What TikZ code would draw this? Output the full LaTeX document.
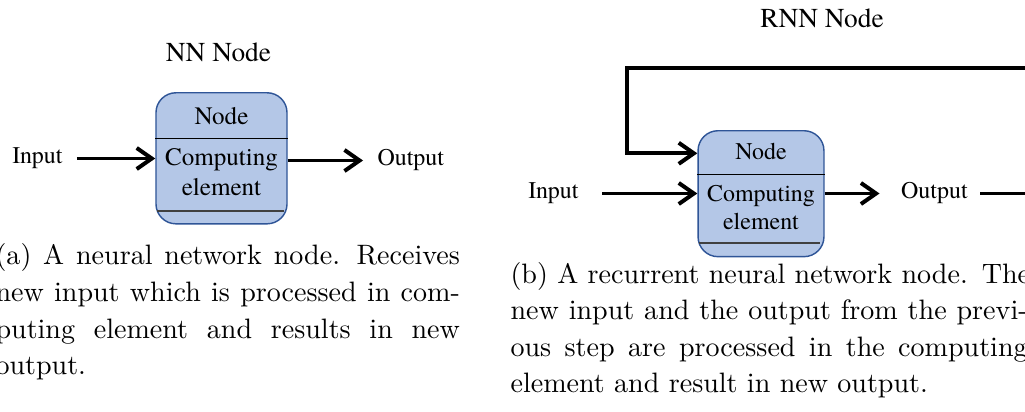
\documentclass[tikz,border=0pt]{standalone}
\usepackage{fontspec}
\newfontfamily\tnr{texgyretermes}[Extension=.otf, UprightFont=*-regular]
\usetikzlibrary{arrows.meta,positioning,calc}
\definecolor{boxfill}{HTML}{B4C7E7}
\definecolor{boxline}{HTML}{2F5597}
\tikzset{
  cell/.style={draw=boxline, fill=boxfill, rounded corners=7pt, line width=0.5pt, inner sep=0pt},
  celltxt/.style 2 args={font=\tnr\fontsize{#1}{#2}\selectfont, text width=44pt, align=center, inner sep=0pt},
  lbl/.style={font=\tnr\fontsize{8.4}{10}\selectfont, inner sep=0pt},
  ttl/.style={font=\tnr\fontsize{9.6}{11}\selectfont, inner sep=0pt},
  divtop/.style={line width=0.45pt, black},
  divbot/.style={line width=0.7pt, black!75},
  arr/.style={-{Straight Barb[length=5.3pt,width=7.4pt]}, line width=1.4pt},
  capn/.style={font=\fontsize{9.85}{12.85}\selectfont, inner sep=0pt, anchor=base west},
}
\begin{document}
\begin{tikzpicture}[x=0.351pt, y=-0.351pt]
\useasboundingbox (0,0) rectangle (1025,412);
\clip (0,0) rectangle (1025,412);
% (a) NN node
\node[ttl, anchor=base] (ttla) at (218.5,62) {NN Node};
\node[cell, minimum width=46pt, minimum height=46pt] (nn) at (221.5,158.3) {};
\node[celltxt={8.8}{10.2}, anchor=base] (nnhead) at (221.5,125) {Node};
\node[celltxt={8.8}{10.2}, anchor=base] (nnbody) at (221.5,166) {Computing\\element};
\draw[divtop] ($(nn.north west)+(0,46.6)$) -- ($(nn.north east)+(0,46.6)$);
\draw[divbot] ($(nn.south west)+(1.5,-14)$) -- ($(nn.south east)+(-4,-14)$);
\node[lbl, anchor=east] (in1) at (63,158.5) {Input};
\node[lbl, anchor=west] (out1) at (377,160.5) {Output};
\draw[arr, shorten <=4.9pt] (in1) -- (in1 -| nn.west);
\draw[arr, shorten >=4.9pt] (nn.east |- out1) -- (out1);
\node[capn, text width=163pt] (capa) at (-5,265) {%
  \makebox[163pt][s]{(a) \hfill A \hfill neural \hfill network \hfill node. \hfill Receives}\\
  \makebox[163pt][s]{new \hfill input \hfill which \hfill is \hfill processed \hfill in \hfill com-}\\
  \makebox[163pt][s]{puting \hfill element \hfill and \hfill results \hfill in \hfill new}\\
  output.};
% (b) RNN node
\node[ttl, anchor=base] (ttlb) at (822,28) {RNN Node};
\node[cell, minimum width=44.2pt, minimum height=44.2pt] (rnn) at (761,193.7) {};
\node[celltxt={8.4}{9.7}, anchor=base] (rnnhead) at (761,159.3) {Node};
\node[celltxt={8.4}{9.7}, anchor=base] (rnnbody) at (761,201.7) {Computing\\element};
\draw[divtop] ($(rnn.north west)+(0,44.3)$) -- ($(rnn.north east)+(0,44.3)$);
\draw[divbot] ($(rnn.south west)+(1.5,-14)$) -- ($(rnn.south east)+(-5,-14)$);
\node[lbl, anchor=east] (in2) at (579,193.5) {Input};
\node[lbl, anchor=west] (out2) at (900.6,193.5) {Output};
\coordinate (loopR) at (1045,68.3);
\coordinate (loopL) at (626.5,68.3);
\coordinate (fb) at ($(rnn.north west)+(0,23.3)$);
\draw[arr, shorten <=8.1pt] (in2) -- (in2 -| rnn.west);
\draw[arr, shorten >=7.4pt] (rnn.east |- out2) -- (out2);
\draw[arr, shorten <=4.2pt] (out2) -- (out2 -| loopR) -- (loopR) -- (loopL) -- (loopL |- fb) -- (fb);
\node[capn, text width=181.5pt] (capb) at (510,283) {%
  \makebox[181.5pt][s]{(b) \hfill A \hfill recurrent \hfill neural \hfill network \hfill node. \hfill The}\\
  \makebox[181.5pt][s]{new \hfill input \hfill and \hfill the \hfill output \hfill from \hfill the \hfill previ-}\\
  \makebox[181.5pt][s]{ous \hfill step \hfill are \hfill processed \hfill in \hfill the \hfill computing}\\
  element and result in new output.};
\end{tikzpicture}
\end{document}
